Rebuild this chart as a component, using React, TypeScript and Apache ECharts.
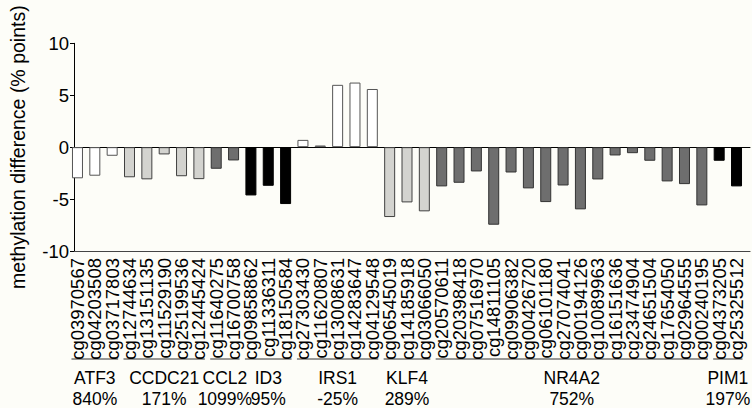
import React, { useEffect, useRef } from "react";
import * as echarts from "echarts";

const categories = [
  "cg03970567", "cg04203508", "cg03717803",
  "cg12744634", "cg13151135", "cg11529190", "cg25199536", "cg12445424",
  "cg11640275", "cg16700758",
  "cg09858862", "cg11336311", "cg18150584",
  "cg27303430", "cg11620807", "cg13008631", "cg14283647", "cg04129548",
  "cg06545019", "cg14185918", "cg03066050",
  "cg20570611", "cg20398418", "cg07516970", "cg14811105", "cg09906382", "cg00426720",
  "cg06101180", "cg27074041", "cg00194126", "cg10089963", "cg16151636", "cg23474904",
  "cg24651504", "cg17654050", "cg02964555", "cg00240195",
  "cg04373205", "cg25325512",
];

const values = [
  -3.0, -2.75, -0.83,
  -2.9, -3.1, -0.7, -2.8, -3.08,
  -2.08, -1.28,
  -4.65, -3.72, -5.48,
  0.7, 0.16, 6.0, 6.22, 5.6,
  -6.73, -5.32, -6.18,
  -3.78, -3.43, -2.34, -7.47, -2.44, -3.97,
  -5.29, -3.69, -5.99, -3.11, -0.8, -0.58,
  -1.31, -3.3, -3.56, -5.61,
  -1.31, -3.78,
];

const groupNames = ["ATF3", "CCDC21", "CCL2", "ID3", "IRS1", "KLF4", "NR4A2", "PIM1"];
const groupPercents = ["840%", "171%", "1099%", "95%", "-25%", "289%", "752%", "197%"];
const groupSizes = [3, 5, 2, 3, 5, 3, 16, 2];
const groupColors = ["#ffffff", "#d3d3cf", "#6e6e6e", "#000000", "#ffffff", "#d3d3cf", "#6e6e6e", "#000000"];
const groupBorders = ["#555555", "#404040", "#333333", "#000000", "#555555", "#404040", "#333333", "#000000"];

const FONT = "'Liberation Sans', Arial, Helvetica, sans-serif";
const BG = "#fdfdf8";

export default function App() {
  const ref = useRef<HTMLDivElement>(null);

  useEffect(() => {
    document.body.style.margin = "0";
    document.body.style.background = BG;
    if (!ref.current) return;
    const chart = echarts.init(ref.current, undefined, { renderer: "svg" });

    const groupOfIndex: number[] = [];
    groupSizes.forEach((n, g) => {
      for (let i = 0; i < n; i++) groupOfIndex.push(g);
    });

    const data = values.map((v, i) => ({
      value: v,
      itemStyle: {
        color: groupColors[groupOfIndex[i]],
        borderColor: groupBorders[groupOfIndex[i]],
        borderWidth: 1,
      },
    }));

    const lineStyle = { color: "#000", width: 1 };

    chart.setOption({
      animation: false,
      backgroundColor: BG,
      textStyle: { fontFamily: FONT },
      grid: [
        { left: 68.8, right: 6.8, top: 43.3, bottom: 157 },
        { left: 65.3, right: 2, top: 43.3, bottom: 157 },
      ],
      xAxis: [
        {
          type: "category",
          gridIndex: 0,
          data: categories,
          axisLine: { show: false },
          axisTick: { show: false },
          axisLabel: {
            rotate: 90,
            interval: 0,
            margin: 7,
            fontSize: 18.5,
            color: "#000",
            fontFamily: FONT,
          },
        },
        {
          type: "value",
          gridIndex: 1,
          min: 0,
          max: 1,
          position: "bottom",
          axisLine: { show: true, onZero: false, lineStyle: { color: "#444", width: 1.2 } },
          axisTick: { show: false },
          axisLabel: { show: false },
          splitLine: { show: false },
        },
        {
          type: "value",
          gridIndex: 1,
          min: 0,
          max: 1,
          position: "top",
          axisLine: { show: true, onZero: true, lineStyle },
          axisTick: { show: false },
          axisLabel: { show: false },
          splitLine: { show: false },
        },
      ],
      yAxis: [
        { type: "value", gridIndex: 0, min: -10, max: 10, show: false },
        {
          type: "value",
          gridIndex: 1,
          min: -10,
          max: 10,
          interval: 5,
          axisLine: { show: true, lineStyle },
          axisTick: { show: true, length: 4, lineStyle },
          axisLabel: { fontSize: 18.5, margin: 5, color: "#000", fontFamily: FONT },
          splitLine: { show: false },
          name: "methylation difference (% points)",
          nameLocation: "middle",
          nameGap: 46,
          nameTextStyle: { fontSize: 19.5, color: "#000", fontFamily: FONT },
        },
      ],
      series: [
        {
          type: "bar",
          xAxisIndex: 0,
          yAxisIndex: 0,
          data,
          barWidth: 11,
        },
      ],
    });

    // group brackets and labels, positioned from the category axis scale
    const graphics: any[] = [];
    let start = 0;
    groupSizes.forEach((n, g) => {
      const x0 = chart.convertToPixel({ xAxisIndex: 0 }, start) as number;
      const x1 = chart.convertToPixel({ xAxisIndex: 0 }, start + n - 1) as number;
      const cx = (x0 + x1) / 2;
      graphics.push({
        type: "line",
        shape: { x1: x0 - 6, y1: 359, x2: x1 + 6, y2: 359 },
        style: { stroke: "#333", lineWidth: 1 },
      });
      graphics.push({
        type: "text",
        x: cx,
        y: 378,
        style: {
          text: groupNames[g],
          fontSize: 17.5,
          fontFamily: FONT,
          fill: "#000",
          align: "center",
          verticalAlign: "middle",
        },
      });
      graphics.push({
        type: "text",
        x: cx,
        y: 399,
        style: {
          text: groupPercents[g],
          fontSize: 17.5,
          fontFamily: FONT,
          fill: "#000",
          align: "center",
          verticalAlign: "middle",
        },
      });
      start += n;
    });
    chart.setOption({ graphic: graphics });

    return () => chart.dispose();
  }, []);

  return <div ref={ref} style={{ width: 752, height: 408 }} />;
}
